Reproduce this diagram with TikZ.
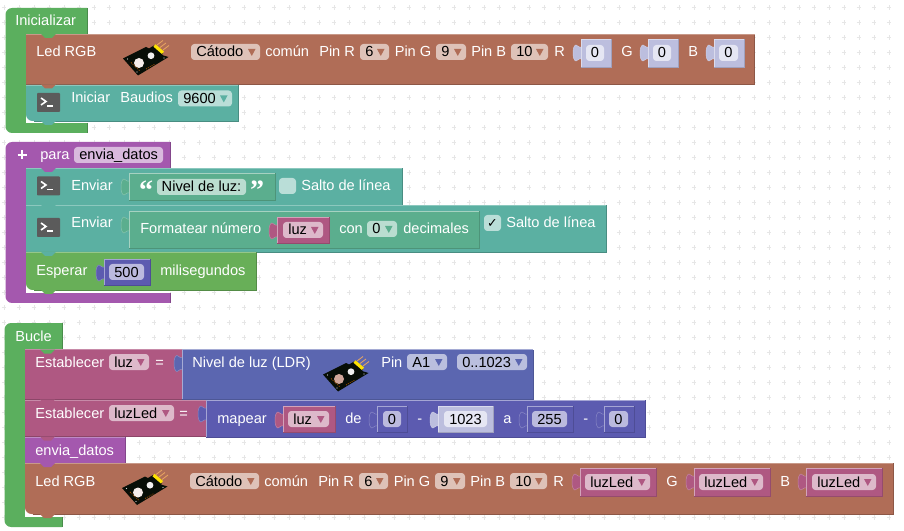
\documentclass[tikz,border=0pt]{standalone}
\usepackage{fontspec}
\setmainfont{Liberation Sans}
\newfontfamily\dejafont{DejaVu Sans}
\newfontfamily\quotefont{Liberation Serif}
\definecolor{cHat}{HTML}{5BAF5E}
\definecolor{cBrown}{HTML}{B06D57}
\definecolor{cTeal}{HTML}{5BB0A2}
\definecolor{cPurple}{HTML}{A458AE}
\definecolor{cPink}{HTML}{AF5882}
\definecolor{cBlue}{HTML}{5B66B0}
\definecolor{cMap}{HTML}{5C5BB0}
\definecolor{cText}{HTML}{5BAE8E}
\definecolor{cWait}{HTML}{68AF58}
\definecolor{cLav}{HTML}{BCBEDE}
\definecolor{cLavF}{HTML}{E5E6F3}
\definecolor{cIcon}{HTML}{5B5B5B}
\definecolor{cDot}{HTML}{E6E6E6}
\newcount\nd
\tikzset{
  lbl/.style={anchor=base west,inner sep=0pt,text=white,font=\fontsize{10.95}{13}\selectfont},
  fldt/.style={anchor=base west,inner sep=0pt,text=black,font=\fontsize{10.95}{13}\selectfont},
  numt/.style={anchor=base,inner sep=0pt,text=black,font=\fontsize{10.95}{13}\selectfont},
  fieldbox/.style={rounded corners=2.5pt},
}
% white label
\newcommand{\lb}[3]{\global\advance\nd by 1 \node[lbl] (t\the\nd) at (#1,#2) {#3};}
% statement block x1 y1 x2 y2 colour
\newcommand{\stmt}[5]{%
  \fill[#5] (#1,#2) rectangle (#3,#4);
  \draw[#5!80!black,line width=.5pt] (#1,#4) -- (#3,#4) -- (#3,#2);
  \draw[#5!70!white,line width=.5pt] (#1,#2) -- (#3,#2);}
% last statement of a stack: rounded lower left corner
\newcommand{\laststmt}[5]{%
  \fill[#5] (#1,#2) -- (#3,#2) -- (#3,#4) [rounded corners=5pt] -- (#1,#4) [sharp corners] -- (#1,#2) -- cycle;
  \draw[#5!80!black,line width=.5pt] (#1+8,#4) -- (#3,#4) -- (#3,#2);
  \draw[#5!70!white,line width=.5pt] (#1,#2) -- (#3,#2);}
% stack notch hanging from a block
\newcommand{\notch}[3]{\fill[#3] (#1+15,#2) -- (#1+19,#2+4) -- (#1+26,#2+4) -- (#1+30,#2) -- cycle;}
% C shape: x1 y1 x2 y2 inner x, inner y1, inner y2, colour
\newcommand{\cshape}[8]{%
  \fill[#8] (#3,#2) [rounded corners=5pt] -- (#1,#2) -- (#1,#4) [sharp corners] -- (#3,#4) -- (#3,#7) -- (#5,#7) -- (#5,#6) -- (#3,#6) -- cycle;
  \draw[#8!80!black,line width=.4pt] (#3,#2) -- (#3,#6) (#3,#7) -- (#3,#4);
  \fill[white] (#5,#7-8) rectangle (#3,#7);}
% puzzle tab at x (block left edge), y (top of tab)
\newcommand{\tabp}[3]{\filldraw[fill=#3,draw=#3!72!white,line width=.35pt] (#1+1,#2+2) .. controls (#1-3,#2+3) and (#1-3,#2) .. (#1-5,#2) .. controls (#1-9,#2) and (#1-9,#2+16) .. (#1-5,#2+16) .. controls (#1-3,#2+16) and (#1-3,#2+13) .. (#1+1,#2+14) -- cycle;}
% value block
\newcommand{\vblock}[5]{%
  \tabp{#1}{#2+6}{#5}
  \fill[#5] (#1,#2) rectangle (#3,#4);
  \draw[white!45!#5,line width=.4pt] (#1,#4) -- (#1,#2) -- (#3,#2);
  \draw[#5!85!black,line width=.4pt] (#1,#4) -- (#3,#4) -- (#3,#2);}
% dropdown: x1 x2 y1 block colour text
\newcommand{\dd}[5]{%
  \fill[#4!42!white,fieldbox] (#1,#3) rectangle (#2,#3+16);
  \fill[#4] (#2-12,#3+5) -- (#2-4.5,#3+5) -- (#2-8.2,#3+12) -- cycle;
  \global\advance\nd by 1 \node[fldt] (t\the\nd) at (#1+5,#3+13) {#5};}
% numeric field: x1 x2 y1 fill text
\newcommand{\nf}[5]{%
  \fill[#4,fieldbox] (#1,#3) rectangle (#2,#3+16);
  \global\advance\nd by 1 \node[numt] (t\the\nd) at ({(#1+#2)/2},#3+13) {#5};}
% console icon
\newcommand{\console}[2]{%
  \fill[cIcon,rounded corners=.7pt] (#1,#2) rectangle (#1+23,#2+19);
  \draw[white,line width=1.2pt] (#1+4,#2+5) -- (#1+9,#2+8.5) -- (#1+4,#2+12);
  \draw[white,line width=1.2pt] (#1+10,#2+13) -- (#1+16,#2+13);}
% sensor board image, offset dx dy, first and second component colour
\newcommand{\board}[4]{%
  \begin{scope}[shift={(#1,#2)}]
    \draw[orange!55!brown!70!white,line width=.6pt] (157,45) -- (163,40.5) (160,47.5) -- (166,43) (163,50) -- (169,45.5);
    \fill[black!92!cHat] (123,58.5) -- (146,47) -- (149,48.5) -- (154,45.5) -- (163,53) -- (162,55) -- (168.5,57) -- (138,75.5) -- cycle;
    \draw[yellow!85!orange,line width=2.4pt] (154.5,45.5) -- (163,52.8);
    \fill[#3] (139,63) circle (5);
    \fill[#4] (151,55.7) circle (3.4);
    \fill[white!70!gray] (127.5,59) circle (.7) (137,72) circle (.7) (164,58) circle (.7);
    \draw[orange!60!black,line width=.6pt,dash pattern=on .8pt off .8pt] (131,62.5) -- (140,71) (146,69) -- (155,64);
  \end{scope}}
\begin{document}
\begin{tikzpicture}[x=.75pt,y=-.75pt]
\useasboundingbox (0,0) rectangle (904,531);
\fill[white] (0,0) rectangle (904,531);
% workspace grid
\foreach \gx in {4,19,...,900} \foreach \gy in {7.5,22.5,...,530}
  \draw[cDot,line width=.4pt] (\gx-2.2,\gy) -- (\gx+2.2,\gy) (\gx,\gy-2.2) -- (\gx,\gy+2.2);

% ---------- Inicializar ----------
\cshape{5.5}{8}{87}{133}{26}{34}{123}{cHat}
\lb{15}{26}{Inicializar}
\stmt{26}{34}{754.5}{84.5}{cBrown}
\laststmt{26}{85}{238}{121}{cTeal}
\notch{26}{34}{cHat}
\notch{26}{84.5}{cBrown}
\notch{26}{121}{cTeal}
\lb{36}{57}{Led RGB}
\board{0}{0}{white!88!cBrown}{white!88!gray}
\dd{191}{260}{44}{cBrown}{Cátodo}
\lb{265}{57}{común}
\lb{319}{57}{Pin R}
\dd{360}{389}{44}{cBrown}{6}
\lb{394.5}{57}{Pin G}
\dd{436}{466}{44}{cBrown}{9}
\lb{471}{57}{Pin B}
\dd{511}{548}{44}{cBrown}{10}
\lb{554}{57}{R}
\vblock{581}{39}{611}{67}{cLav}
\nf{586}{604}{45}{cLavF}{0}
\lb{621}{57}{G}
\vblock{648}{39}{678}{67}{cLav}
\nf{653}{671}{45}{cLavF}{0}
\lb{688}{57}{B}
\vblock{714}{39}{744}{67}{cLav}
\nf{719}{738}{45}{cLavF}{0}
\console{37}{93}
\lb{71}{103}{Iniciar}
\lb{120}{103}{Baudios}
\dd{178}{232}{90.5}{cTeal}{9600}

% ---------- para envia_datos ----------
\cshape{5.5}{142}{170}{303}{26}{168}{293}{cPurple}
\draw[white,line width=1.6pt] (17.5,155) -- (27,155) (22.2,150.5) -- (22.2,159.5);
\lb{40}{160}{para}
\fill[cPurple!42!white,fieldbox] (74,147) rectangle (163,163);
\node[fldt] (fname) at (79,160) {envia\_datos};
\stmt{26}{168}{402}{205}{cTeal}
\stmt{26}{205}{606}{252}{cTeal}
\laststmt{26}{252}{256}{290}{cWait}
\notch{26}{168}{cPurple}
\notch{26}{205}{cTeal}
\notch{26}{252}{cTeal}
\notch{26}{290}{cWait}
\console{37}{176.5}
\lb{71}{191}{Enviar}
\vblock{129}{173}{275}{200.5}{cText}
\nf{157}{246}{179}{cText!42!white}{Nivel de luz:}
\node[anchor=base,inner sep=0pt,text=white,font=\quotefont\bfseries\fontsize{21}{21}\selectfont] (qa) at (146,200) {“};
\node[anchor=base,inner sep=0pt,text=white,font=\quotefont\bfseries\fontsize{21}{21}\selectfont] (qb) at (257,200) {”};
\fill[cTeal!42!white,fieldbox] (279,178) rectangle (296,194);
\lb{301}{191}{Salto de línea}
\console{37}{218}
\lb{71}{228}{Enviar}
\vblock{129}{211}{479}{248}{cText}
\lb{140}{234}{Formatear número}
\vblock{277}{217}{329}{243.5}{cPink}
\dd{283}{323}{222}{cPink}{luz}
\lb{339}{234}{con}
\dd{367}{397}{221}{cText}{0}
\lb{403}{234}{decimales}
\fill[cTeal!42!white,fieldbox] (484,215) rectangle (501,231);
\node[anchor=base,inner sep=0pt,text=black,font=\dejafont\bfseries\fontsize{9.5}{10}\selectfont] (chk) at (492.5,228) {✓};
\lb{506}{228}{Salto de línea}
\lb{36}{276}{Esperar}
\vblock{104}{259}{150}{285}{cMap}
\nf{109}{144}{264}{cMap!42!white}{500}
\lb{160}{276}{milisegundos}

% ---------- Bucle ----------
\cshape{4.5}{323}{62}{527}{25}{349.5}{517}{cHat}
\lb{15}{341}{Bucle}
\stmt{25}{349.5}{182}{399.5}{cPink}
\stmt{25}{400}{206}{436.5}{cPink}
\stmt{25}{437}{125}{463}{cPurple}
\laststmt{25}{463}{893}{514}{cBrown}
\notch{25}{349.5}{cHat}
\notch{25}{399.5}{cPink}
\notch{25}{436.5}{cPink}
\notch{25}{463}{cPurple}
\notch{25}{514}{cBrown}
\lb{35}{367}{Establecer}
\dd{109}{149}{354}{cPink}{luz}
\lb{155}{367}{=}
\vblock{182}{349.5}{533}{399.5}{cBlue}
\lb{192}{367}{Nivel de luz (LDR)}
\board{200}{316}{cBrown!60!white}{white!88!gray}
\lb{381}{367}{Pin}
\dd{407}{447}{354}{cBlue}{A1}
\dd{457}{527}{354}{cBlue}{0..1023}
\lb{35}{418}{Establecer}
\dd{109}{174}{405}{cPink}{luzLed}
\lb{179}{418}{=}
\vblock{206}{400}{645}{437}{cMap}
\lb{217}{423}{mapear}
\vblock{283}{406}{335}{432}{cPink}
\dd{288}{329}{411}{cPink}{luz}
\lb{345}{423}{de}
\vblock{377}{406}{407}{432}{cMap}
\nf{383}{401}{411}{cMap!42!white}{0}
\lb{417}{423}{-}
\vblock{438}{406}{493}{432}{cLav}
\nf{444}{487}{411}{cLavF}{1023}
\lb{503}{423}{a}
\vblock{527}{406}{573}{432}{cMap}
\nf{532}{567}{411}{cMap!42!white}{255}
\lb{583}{423}{-}
\vblock{604}{406}{634}{432}{cMap}
\nf{609}{628}{411}{cMap!42!white}{0}
\lb{35}{455}{envia\_datos}
\lb{35}{486}{Led RGB}
\board{-1}{429.5}{white!88!cBrown}{white!88!gray}
\dd{190}{259}{473}{cBrown}{Cátodo}
\lb{264}{486}{común}
\lb{318}{486}{Pin R}
\dd{359}{388}{473}{cBrown}{6}
\lb{393.5}{486}{Pin G}
\dd{435}{465}{473}{cBrown}{9}
\lb{470}{486}{Pin B}
\dd{510}{547}{473}{cBrown}{10}
\lb{553}{486}{R}
\vblock{580}{468}{656}{496}{cPink}
\dd{585}{650}{474}{cPink}{luzLed}
\lb{666}{486}{G}
\vblock{694}{468}{770}{496}{cPink}
\dd{699}{763}{474}{cPink}{luzLed}
\lb{780}{486}{B}
\vblock{806}{468}{882}{496}{cPink}
\dd{812}{876}{474}{cPink}{luzLed}
\end{tikzpicture}
\end{document}
